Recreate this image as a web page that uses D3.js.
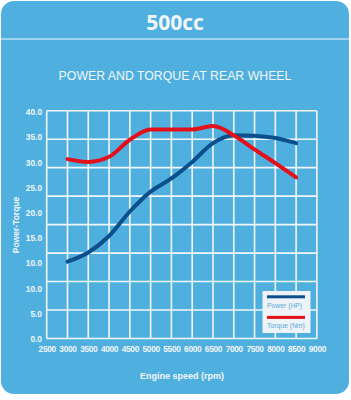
<!DOCTYPE html>
<html><head><meta charset="utf-8">
<script src="https://cdn.jsdelivr.net/npm/d3@7"></script>
<style>html,body{margin:0;padding:0;background:#fff;}svg{display:block;}</style>
</head><body>
<script>
const rpm = [3000,3500,4000,4500,5000,5500,6000,6500,7000,7500,8000,8500];
const power = [13.5,15.1,18.0,22.3,25.8,28.1,31.0,34.3,35.7,35.6,35.2,34.3];
const torque = [31.5,31.0,31.9,34.9,36.7,36.7,36.7,37.3,35.7,33.2,30.8,28.3];
const xTicks = [2500,3000,3500,4000,4500,5000,5500,6000,6500,7000,7500,8000,8500,9000];
const yGrid = [0,5,10,15,20,25,30,35,40];
const yLabels = ["0.0","5.0","10.0","10.0","15.0","20.0","25.0","30.0","35.0","40.0"];
const seriesNames = ["Power (HP)","Torque (Nm)"];

const W=351,H=400;
const bg="#4fb0e0", white="#f3f6f8", blue="#0b4f8c", red="#e3101c";
const svg=d3.select("body").append("svg").attr("width",W).attr("height",H);
svg.append("rect").attr("x",1).attr("y",1).attr("width",348).attr("height",393).attr("rx",13).attr("fill",bg);
svg.append("line").attr("x1",1).attr("x2",349).attr("y1",39).attr("y2",39).attr("stroke",white).attr("stroke-width",1);
svg.append("text").attr("x",175).attr("y",30).attr("text-anchor","middle").attr("fill",white)
  .attr("font-family","Open Sans, sans-serif").attr("font-weight","bold").attr("font-size",21).text("500cc");
svg.append("text").attr("x",175).attr("y",80).attr("text-anchor","middle").attr("fill",white)
  .attr("font-family","Liberation Sans, Arial, sans-serif").attr("font-size",12.3).text("POWER AND TORQUE AT REAR WHEEL");

const L=46.7,R=316.9,T=110.7,B=338.5;
const x=d3.scaleLinear().domain([2500,9000]).range([L,R]);
const y=d3.scaleLinear().domain([0,40]).range([B,T]);
const yl=d3.scalePoint().domain(d3.range(yLabels.length)).range([339,112]);

const g=svg.append("g");
g.selectAll(".v").data(xTicks).join("line").attr("x1",d=>x(d)).attr("x2",d=>x(d)).attr("y1",T).attr("y2",B)
  .attr("stroke",white).attr("stroke-width",1.6);
g.selectAll(".h").data(yGrid).join("line").attr("y1",d=>y(d)).attr("y2",d=>y(d)).attr("x1",L).attr("x2",R)
  .attr("stroke",white).attr("stroke-width",1.6);

const fontAx="Liberation Sans, Arial, sans-serif";
const xa=svg.append("g").attr("transform",`translate(0,${B})`)
  .call(d3.axisBottom(x).tickValues(xTicks).tickSize(0).tickPadding(8).tickFormat(d3.format("d")));
xa.select(".domain").remove();
xa.selectAll("text").attr("fill",white).attr("font-family",fontAx).attr("font-size",8.3).attr("font-weight","bold").attr("letter-spacing",-0.3);
const ya=svg.append("g").attr("transform",`translate(42,0)`)
  .call(d3.axisLeft(yl).tickSize(0).tickPadding(0).tickFormat(i=>yLabels[i]));
ya.select(".domain").remove();
ya.selectAll("text").attr("fill",white).attr("font-family",fontAx).attr("font-size",8.3).attr("font-weight","bold");

svg.append("text").attr("transform","translate(19,225) rotate(-90)").attr("text-anchor","middle").attr("fill",white)
  .attr("font-family",fontAx).attr("font-weight","bold").attr("font-size",8.5).text("Power-Torque");
svg.append("text").attr("x",182).attr("y",379).attr("text-anchor","middle").attr("fill",white)
  .attr("font-family",fontAx).attr("font-weight","bold").attr("font-size",9).text("Engine speed (rpm)");

const line=d3.line().x(d=>x(d[0])).y(d=>y(d[1])).curve(d3.curveMonotoneX);
svg.append("path").datum(rpm.map((r,i)=>[r,power[i]])).attr("d",line).attr("fill","none").attr("stroke",blue).attr("stroke-width",4).attr("stroke-linecap","round");
svg.append("path").datum(rpm.map((r,i)=>[r,torque[i]])).attr("d",line).attr("fill","none").attr("stroke",red).attr("stroke-width",4).attr("stroke-linecap","round");

const lg=svg.append("g");
lg.append("rect").attr("x",262.5).attr("y",291).attr("width",48).attr("height",42).attr("fill","#eef3f7");
[blue,red].forEach((c,i)=>{
  lg.append("rect").attr("x",267).attr("y",295.3+i*20.6).attr("width",38).attr("height",3).attr("fill",c);
  lg.append("text").attr("x",267).attr("y",307.5+i*20.6).attr("fill","#5aaadc").attr("font-family",fontAx)
    .attr("font-size",6.8).text(seriesNames[i]);
});
</script>
</body></html>
